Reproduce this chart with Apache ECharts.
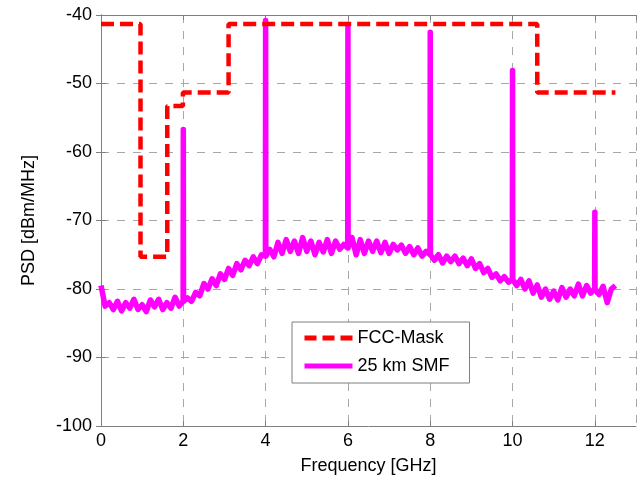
<!DOCTYPE html>
<html>
<head>
<meta charset="utf-8">
<script src="https://cdn.jsdelivr.net/npm/echarts@6/dist/echarts.min.js"></script>
<style>
html,body{margin:0;padding:0;background:#fff;}
#chart{width:640px;height:485px;}
</style>
</head>
<body>
<div id="chart"></div>
<script>
// FCC mask: step edges (GHz) and levels (dBm/MHz)
const maskFreqs = [0, 0.96, 1.61, 1.99, 3.1, 10.6, 12.5];
const maskLevels = [-41.3, -75.3, -53.3, -51.3, -41.3, -51.3, -51.3];

// 25 km SMF measured PSD floor (GHz, dBm/MHz)
const smfFreqs = [
 0.0,0.1,0.2,0.3,0.4,0.5,0.6,0.7,0.8,0.9,
 1.0,1.1,1.2,1.3,1.4,1.5,1.6,1.7,1.8,1.9,
 2.0,2.1,2.2,2.3,2.4,2.5,2.6,2.7,2.8,2.9,
 3.0,3.1,3.2,3.3,3.4,3.5,3.6,3.7,3.8,3.9,
 4.0,4.1,4.2,4.3,4.4,4.5,4.6,4.7,4.8,4.9,
 5.0,5.1,5.2,5.3,5.4,5.5,5.6,5.7,5.8,5.9,
 6.0,6.1,6.2,6.3,6.4,6.5,6.6,6.7,6.8,6.9,
 7.0,7.1,7.2,7.3,7.4,7.5,7.6,7.7,7.8,7.9,
 8.0,8.1,8.2,8.3,8.4,8.5,8.6,8.7,8.8,8.9,
 9.0,9.1,9.2,9.3,9.4,9.5,9.6,9.7,9.8,9.9,
 10.0,10.1,10.2,10.3,10.4,10.5,10.6,10.7,10.8,10.9,
 11.0,11.1,11.2,11.3,11.4,11.5,11.6,11.7,11.8,11.9,
 12.0,12.1,12.2,12.3,12.4,12.5
];
const smfLevels = [
 -79.5,-82.5,-82.0,-83.0,-81.8,-83.2,-82.0,-82.8,-81.5,-83.0,
 -82.3,-83.3,-81.6,-82.6,-81.5,-83.0,-82.0,-82.8,-81.2,-82.5,
 -81.8,-81.3,-81.8,-80.5,-81.0,-79.2,-80.0,-78.5,-79.5,-77.8,
 -78.6,-77.0,-78.0,-76.3,-77.2,-75.8,-76.6,-75.3,-76.3,-75.0,
 -75.2,-74.2,-75.3,-73.2,-74.8,-72.8,-74.5,-73.0,-74.8,-72.5,
 -74.5,-73.0,-75.0,-73.2,-74.6,-72.8,-74.8,-73.0,-74.2,-73.5,
 -74.0,-72.5,-75.0,-72.8,-74.8,-73.0,-74.5,-73.0,-74.7,-73.2,
 -74.8,-73.5,-74.3,-73.6,-74.8,-73.8,-75.0,-74.0,-75.2,-74.5,
 -75.0,-75.8,-75.0,-76.2,-75.2,-76.0,-75.2,-76.3,-75.5,-76.6,
 -75.6,-77.0,-76.3,-77.6,-77.0,-78.3,-77.8,-78.8,-78.2,-79.0,
 -78.6,-79.5,-78.6,-80.0,-78.8,-80.6,-79.4,-81.2,-80.0,-81.5,
 -80.3,-81.6,-79.8,-81.2,-80.0,-81.0,-79.3,-81.0,-79.5,-80.6,
 -80.0,-80.8,-79.6,-82.0,-80.0,-79.5
];
// carrier spikes
const spikeFreqs = [2, 4, 6, 8, 10, 12];
const spikePeaks = [-56.7, -40.8, -41.4, -42.5, -48.1, -68.8];

// x/y tick settings
const xTicks = {min: 0, max: 13, interval: 2};
const yTicks = {min: -100, max: -40, interval: 10};

const maskData = maskFreqs.map((f, i) => [f, maskLevels[i]]);
const smfData = [];
smfFreqs.forEach((f, i) => {
  const k = spikeFreqs.indexOf(f);
  if (k >= 0) {
    smfData.push([f - 0.005, smfLevels[i]]);
    smfData.push([f, spikePeaks[k]]);
    smfData.push([f + 0.005, smfLevels[i]]);
  } else {
    smfData.push([f, smfLevels[i]]);
  }
});

const font = 'Liberation Sans, Arial, Helvetica, sans-serif';
const gridLine = {show: true, lineStyle: {color: '#a8a8a8', width: 1, type: [8, 8]}};
const axLine = {show: true, lineStyle: {color: '#7f7f7f', width: 1}};
const tick = {show: true, inside: true, length: 5, lineStyle: {color: '#7f7f7f'}};

const chart = echarts.init(document.getElementById('chart'), null, {renderer: 'canvas'});
chart.setOption({
  animation: false,
  backgroundColor: '#fff',
  grid: {left: 101, right: 4, top: 15, bottom: 59},
  legend: {
    orient: 'vertical',
    left: 292, top: 322,
    padding: [7, 20, 8, 10],
    itemWidth: 48, itemHeight: 14, itemGap: 10,
    borderColor: '#7f7f7f', borderWidth: 1, backgroundColor: '#fff',
    itemStyle: {opacity: 0},
    textStyle: {fontFamily: font, fontSize: 18, color: '#000'},
    data: [
      {name: 'FCC-Mask', lineStyle: {color: '#ff0000', width: 5, type: [12, 6]}},
      {name: '25 km SMF', lineStyle: {color: '#ff00ff', width: 5, type: 'solid'}}
    ]
  },
  xAxis: [{
    type: 'value', ...xTicks,
    name: 'Frequency [GHz]', nameLocation: 'middle', nameGap: 31,
    nameTextStyle: {fontFamily: font, fontSize: 18, color: '#000'},
    axisLine: axLine, axisTick: tick,
    axisLabel: {fontFamily: font, fontSize: 18, color: '#000', margin: 6, showMaxLabel: false},
    splitLine: gridLine
  }, {
    type: 'value', ...xTicks, position: 'top',
    axisLine: axLine, axisTick: tick,
    axisLabel: {show: false}, splitLine: {show: false}
  }],
  yAxis: [{
    type: 'value', ...yTicks,
    name: 'PSD [dBm/MHz]', nameLocation: 'middle', nameGap: 63, nameRotate: 90,
    nameTextStyle: {fontFamily: font, fontSize: 18, color: '#000'},
    axisLine: axLine, axisTick: tick,
    axisLabel: {fontFamily: font, fontSize: 18, color: '#000', margin: 9},
    splitLine: gridLine
  }, {
    type: 'value', ...yTicks, position: 'right',
    axisLine: axLine, axisTick: tick,
    axisLabel: {show: false}, splitLine: {show: false}
  }],
  series: [{
    name: '25 km SMF', type: 'line', data: smfData,
    symbol: 'none', z: 2,
    lineStyle: {color: '#ff00ff', width: 5.5, join: 'round'},
    itemStyle: {color: '#ff00ff'}
  }, {
    name: 'FCC-Mask', type: 'line', data: maskData, step: 'end',
    symbol: 'none', z: 3,
    lineStyle: {color: '#ff0000', width: 4.5, type: [13, 6]},
    itemStyle: {color: '#ff0000'}
  }]
});
</script>
</body>
</html>
